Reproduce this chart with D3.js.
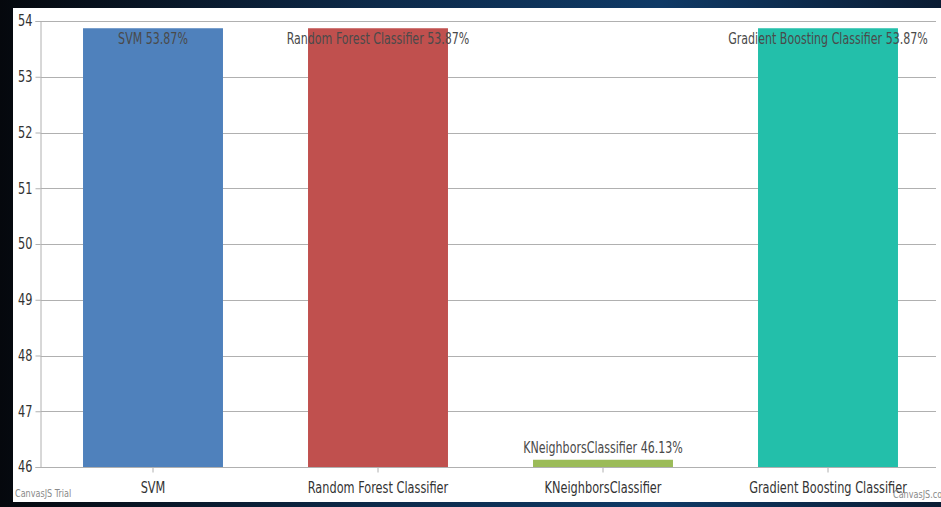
<!DOCTYPE html>
<html>
<head>
<meta charset="utf-8">
<script src="https://cdn.jsdelivr.net/npm/d3@7/dist/d3.min.js"></script>
<style>
  html, body { margin: 0; padding: 0; }
  body { width: 941px; height: 507px; overflow: hidden; background: #0b1524; }
  svg { display: block; }
</style>
</head>
<body>
<svg id="chart" width="941" height="507"></svg>
<script>
const categories = ["SVM", "Random Forest Classifier", "KNeighborsClassifier", "Gradient Boosting Classifier"];
const accuracies = [53.87, 53.87, 46.13, 53.87];
const indexLabels = ["SVM 53.87%", "Random Forest Classifier 53.87%", "KNeighborsClassifier 46.13%", "Gradient Boosting Classifier 53.87%"];
const barColors = ["#4F81BC", "#C0504E", "#9BBB58", "#23BFAA"];
const yTicks = [46, 47, 48, 49, 50, 51, 52, 53, 54];

const FONT = "'DejaVu Sans Condensed', 'Liberation Sans Narrow', 'Open Sans', sans-serif";
const NARROW = 0.84;   // horizontal squeeze to mimic a narrow (Calibri-like) face

const svg = d3.select("#chart");

// backdrop (desktop frame)
const defs = svg.append("defs");
const bg = defs.append("linearGradient").attr("id", "bg").attr("x1", 0).attr("y1", 0).attr("x2", 1).attr("y2", 0);
bg.append("stop").attr("offset", "0%").attr("stop-color", "#05080d");
bg.append("stop").attr("offset", "40%").attr("stop-color", "#0d2a4a");
bg.append("stop").attr("offset", "70%").attr("stop-color", "#0f3a66");
bg.append("stop").attr("offset", "100%").attr("stop-color", "#0a1c33");
svg.append("rect").attr("width", 941).attr("height", 507).attr("fill", "url(#bg)");

// white chart panel
svg.append("rect").attr("x", 13).attr("y", 8).attr("width", 928).attr("height", 494).attr("fill", "#ffffff");

const margin = { left: 40.5, right: 940.5, top: 21, bottom: 467 };

const x = d3.scaleBand()
  .domain(categories)
  .range([margin.left, margin.right])
  .paddingInner(0.378)
  .paddingOuter(0.189);

const y = d3.scaleLinear().domain([46, 54]).range([margin.bottom, margin.top]);

// gridlines
svg.append("g")
  .selectAll("line")
  .data(yTicks)
  .join("line")
  .attr("x1", margin.left)
  .attr("x2", 936)
  .attr("y1", d => Math.round(y(d)) + 0.5)
  .attr("y2", d => Math.round(y(d)) + 0.5)
  .attr("stroke", "#b0b0b0")
  .attr("stroke-width", 1);

// bars
svg.append("g")
  .selectAll("rect")
  .data(categories)
  .join("rect")
  .attr("x", d => x(d))
  .attr("width", x.bandwidth())
  .attr("y", (d, i) => y(accuracies[i]))
  .attr("height", (d, i) => y(46) - y(accuracies[i]))
  .attr("fill", (d, i) => barColors[i]);

// Y axis
const yAxis = svg.append("g")
  .attr("transform", `translate(${margin.left},0)`)
  .call(d3.axisLeft(y).tickValues(yTicks).tickFormat(d3.format("d")).tickSize(5).tickPadding(4));
yAxis.select(".domain").attr("stroke", "#b0b0b0");
yAxis.selectAll(".tick line").attr("stroke", "#b0b0b0");
yAxis.selectAll(".tick text")
  .attr("x", null)
  .attr("transform", `translate(-8,0) scale(${NARROW},1)`)
  .attr("font-family", FONT)
  .attr("font-size", 15)
  .attr("fill", "#333333");

// X axis
const xAxis = svg.append("g")
  .attr("transform", `translate(0,${Math.round(y(46)) + 0.5})`)
  .call(d3.axisBottom(x).tickSize(5).tickPadding(10));
xAxis.select(".domain").remove();
xAxis.selectAll(".tick line").attr("stroke", "#b0b0b0");
xAxis.selectAll(".tick text")
  .attr("transform", `scale(${NARROW},1)`)
  .attr("font-family", FONT)
  .attr("font-size", 15)
  .attr("fill", "#333333");

// index labels
svg.append("g")
  .selectAll("text")
  .data(categories)
  .join("text")
  .attr("transform", (d, i) => {
    const top = y(accuracies[i]);
    const ly = top - 30 < margin.top ? top + 16 : top - 7;
    return `translate(${x(d) + x.bandwidth() / 2},${ly}) scale(0.82,1)`;
  })
  .attr("text-anchor", "middle")
  .attr("font-family", FONT)
  .attr("font-size", 15)
  .attr("fill", "#4a4a4a")
  .text((d, i) => indexLabels[i]);

// watermarks
svg.append("text")
  .attr("transform", "translate(15,497) scale(0.9,1)")
  .attr("font-family", FONT).attr("font-size", 10).attr("fill", "#8a8a8a")
  .text("CanvasJS Trial");
svg.append("text")
  .attr("transform", "translate(893,498) scale(0.9,1)")
  .attr("font-family", FONT).attr("font-size", 10).attr("fill", "#8a8a8a")
  .text("CanvasJS.com");
</script>
</body>
</html>
